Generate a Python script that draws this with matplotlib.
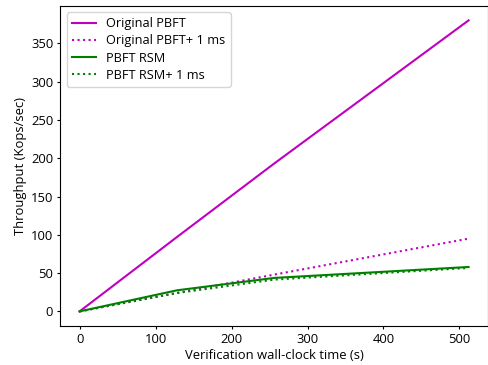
import matplotlib
matplotlib.use("Agg")
import matplotlib.pyplot as plt

plt.rcParams['font.family'] = ['Open Sans', 'DejaVu Sans']

# Czas weryfikacji (s)
x = [0, 128, 256, 512]

orig = [0, 97, 193, 380]
orig_1ms = [0, 24, 48, 95]
rsm = [0, 27.5, 43.7, 58]
rsm_1ms = [0, 24, 41.5, 56.8]

fig = plt.figure(figsize=(4.89, 3.65), dpi=100)
ax = fig.add_axes([0.123, 0.107, 0.875, 0.877])

ax.plot(x, orig, color='m', linestyle='-', label='Original PBFT')
ax.plot(x, orig_1ms, color='m', linestyle=':', label='Original PBFT+ 1 ms')
ax.plot(x, rsm, color='g', linestyle='-', label='PBFT RSM')
ax.plot(x, rsm_1ms, color='g', linestyle=':', label='PBFT RSM+ 1 ms')

ax.set_xlabel('Verification wall-clock time (s)', fontsize=9.4, labelpad=2)
ax.set_ylabel('Throughput (Kops/sec)', fontsize=9.4, labelpad=3)
ax.tick_params(labelsize=9.4, length=2.5, pad=2.5)
ax.legend(loc='upper left', fontsize=9.2, labelspacing=0.32, handlelength=1.9)

fig.savefig("out.png", dpi=100)
